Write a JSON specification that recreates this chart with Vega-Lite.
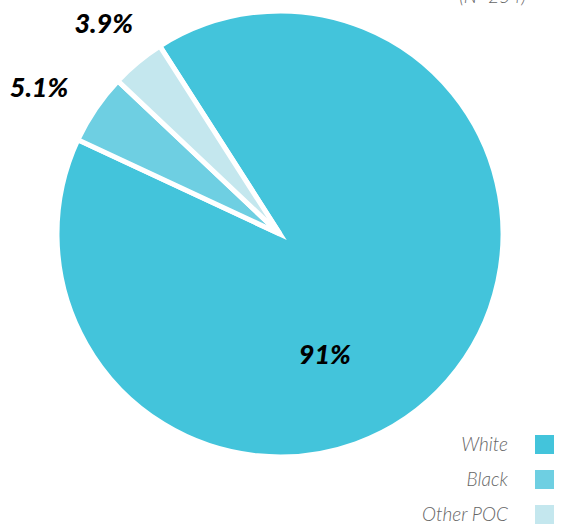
{
  "$schema": "https://vega.github.io/schema/vega-lite/v6.json",
  "width": 560,
  "height": 468,
  "autosize": "none",
  "padding": {"left": 0, "top": 0, "right": 3, "bottom": 57},
  "background": "white",
  "title": {"text": "(N=254)", "anchor": "end", "frame": "group", "orient": "top", "offset": 0, "dy": 26, "dx": -34, "font": "Lato", "fontSize": 19, "fontStyle": "italic", "fontWeight": 300, "color": "#666666", "baseline": "bottom"},
  "data": {"values": [
    {"group": "White", "pct": 91, "label": "91%", "rank": 1},
    {"group": "Black", "pct": 5.1, "label": "5.1%", "rank": 2},
    {"group": "Other POC", "pct": 3.9, "label": "3.9%", "rank": 3}
  ]},
  "encoding": {
    "theta": {"field": "pct", "type": "quantitative", "stack": true, "scale": {"range": [-0.569, 5.714]}},
    "order": {"field": "rank", "type": "quantitative"},
    "color": {"field": "group", "type": "nominal", "scale": {"domain": ["White", "Black", "Other POC"], "range": ["#43C4DB", "#6ECFE2", "#C4E7EE"]},
      "legend": {"title": null, "orient": "none", "legendX": 535, "legendY": 435, "padding": 0, "symbolType": "square", "symbolSize": 361, "symbolStrokeWidth": 0, "labelFont": "Lato", "labelFontSize": 19, "labelFontStyle": "italic", "labelFontWeight": 300, "labelColor": "#666666", "labelAlign": "right", "labelOffset": -46, "rowPadding": 15}}
  },
  "layer": [
    {"mark": {"type": "arc", "outerRadius": 223, "stroke": "white", "strokeWidth": 5}},
    {"mark": {"type": "text", "radius": 278, "dx": -11, "dy": 11, "font": "Lato", "fontSize": 27, "fontWeight": 900, "fontStyle": "italic", "align": "center", "baseline": "middle"},
     "encoding": {"text": {"field": "label"}, "color": {"value": "black"},
       "opacity": {"condition": {"test": "datum.group === 'Black'", "value": 1}, "value": 0}}},
    {"mark": {"type": "text", "radius": 278, "dx": 1, "dy": 5, "font": "Lato", "fontSize": 27, "fontWeight": 900, "fontStyle": "italic", "align": "center", "baseline": "middle"},
     "encoding": {"text": {"field": "label"}, "color": {"value": "black"},
       "opacity": {"condition": {"test": "datum.group === 'Other POC'", "value": 1}, "value": 0}}},
    {"mark": {"type": "text", "radius": 130, "dx": -53, "dy": 36, "font": "Lato", "fontSize": 27, "fontWeight": 900, "fontStyle": "italic", "align": "center", "baseline": "middle"},
     "encoding": {"text": {"field": "label"}, "color": {"value": "black"},
       "opacity": {"condition": {"test": "datum.group === 'White'", "value": 1}, "value": 0}}}
  ],
  "config": {"view": {"stroke": null}}
}
